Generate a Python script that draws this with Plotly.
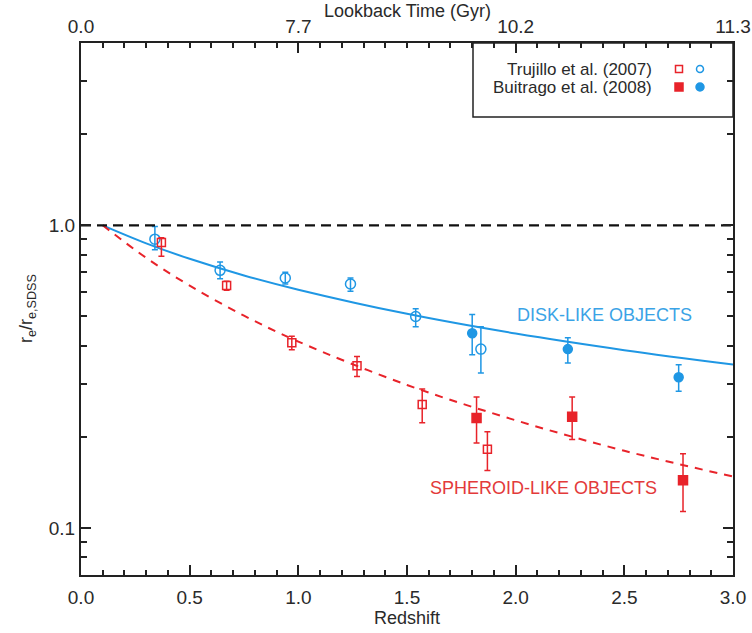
import math
import plotly.graph_objects as go

# ---- data ----
# fitted size-evolution curves (read at a few redshifts)
fit_z = [0.1, 0.3, 0.5, 0.75, 1.0, 1.5, 2.0, 2.5, 3.0]
disk_fit = [1.0, 0.872, 0.775, 0.683, 0.613, 0.510, 0.439, 0.387, 0.347]
sph_fit = [1.0, 0.781, 0.632, 0.503, 0.413, 0.297, 0.227, 0.180, 0.148]

# Trujillo et al. (2007) - open symbols
tru_disk_z = [0.34, 0.64, 0.94, 1.24, 1.54, 1.84]
tru_disk_r = [0.90, 0.71, 0.67, 0.64, 0.50, 0.39]
tru_disk_hi = [0.99, 0.756, 0.70, 0.67, 0.53, 0.462]
tru_disk_lo = [0.83, 0.666, 0.64, 0.606, 0.462, 0.325]

tru_sph_z = [0.37, 0.67, 0.97, 1.27, 1.57, 1.87]
tru_sph_r = [0.877, 0.633, 0.409, 0.344, 0.256, 0.182]
tru_sph_hi = [0.91, 0.654, 0.43, 0.369, 0.288, 0.208]
tru_sph_lo = [0.79, 0.61, 0.388, 0.317, 0.223, 0.155]

# Buitrago et al. (2008) - filled symbols
bui_disk_z = [1.80, 2.24, 2.75]
bui_disk_r = [0.44, 0.39, 0.315]
bui_disk_hi = [0.507, 0.425, 0.346]
bui_disk_lo = [0.374, 0.351, 0.283]

bui_sph_z = [1.82, 2.26, 2.77]
bui_sph_r = [0.231, 0.233, 0.144]
bui_sph_hi = [0.271, 0.271, 0.176]
bui_sph_lo = [0.191, 0.196, 0.1135]

x_ticks = [0.0, 0.5, 1.0, 1.5, 2.0, 2.5, 3.0]
lookback_pos = [0, 1, 2, 3]
lookback_labels = ["0.0", "7.7", "10.2", "11.3"]

BLUE = "#1f97e4"
RED = "#e8232a"
FONT = "Liberation Sans, Arial, sans-serif"
TXT = "#2a2a2a"

# plot area in pixels (for legend placement)
L, R, T, B = 81, 733, 43, 575


def px(xp, yp):
    return (xp - L) / (R - L), (B - yp) / (B - T)


def err(vals, hi, lo):
    return dict(type="data", symmetric=False,
                array=[h - v for h, v in zip(hi, vals)],
                arrayminus=[v - l for v, l in zip(vals, lo)])


fig = go.Figure()

# reference line r = 1 (on the top axis so that it gets drawn)
fig.add_trace(go.Scatter(x=[0, 3], y=[1, 1], xaxis="x2", mode="lines",
                         line=dict(color="#111111", width=2.2, dash="10px,6px"),
                         hoverinfo="skip"))

fig.add_trace(go.Scatter(x=fit_z, y=disk_fit, mode="lines", line_shape="spline",
                         line=dict(color=BLUE, width=2)))
fig.add_trace(go.Scatter(x=fit_z, y=sph_fit, mode="lines", line_shape="spline",
                         line=dict(color=RED, width=2, dash="8px,7px")))

series = [
    (tru_disk_z, tru_disk_r, tru_disk_hi, tru_disk_lo, BLUE, "circle-open", 10),
    (tru_sph_z, tru_sph_r, tru_sph_hi, tru_sph_lo, RED, "square-open", 8),
    (bui_disk_z, bui_disk_r, bui_disk_hi, bui_disk_lo, BLUE, "circle", 9),
    (bui_sph_z, bui_sph_r, bui_sph_hi, bui_sph_lo, RED, "square", 9),
]
for z, r, hi, lo, col, sym, size in series:
    e = err(r, hi, lo)
    e.update(color=col, thickness=1.5, width=3)
    fig.add_trace(go.Scatter(x=z, y=r, mode="markers", error_y=e,
                             marker=dict(symbol=sym, size=size, color=col,
                                         line=dict(color=col, width=1.5))))

# legend box drawn by hand (text right-aligned, symbols on the right)
LEG_Y = [69, 87]
shapes = []
x0, y0 = px(473, 117)
shapes.append(dict(type="rect", xref="paper", yref="paper", x0=x0, y0=y0, x1=1, y1=1,
                   line=dict(color="#222222", width=1.5), fillcolor="rgba(0,0,0,0)"))
for cx, cy, kind, col, filled, s in [(679, LEG_Y[0], "rect", RED, False, 7),
                                    (700, LEG_Y[0], "circle", BLUE, False, 7),
                                    (679, LEG_Y[1], "rect", RED, True, 8),
                                    (700, LEG_Y[1], "circle", BLUE, True, 8)]:
    a0, b0 = px(cx - s / 2, cy + s / 2)
    a1, b1 = px(cx + s / 2, cy - s / 2)
    shapes.append(dict(type=kind, xref="paper", yref="paper", x0=a0, y0=b0, x1=a1, y1=b1,
                       line=dict(color=col, width=1.5),
                       fillcolor=col if filled else "rgba(0,0,0,0)"))

ann = []
for label, yp in [("Trujillo et al. (2007)", LEG_Y[0]), ("Buitrago et al. (2008)", LEG_Y[1])]:
    ax, ay = px(654, yp)
    ann.append(dict(xref="paper", yref="paper", x=ax, y=ay, text=label, showarrow=False,
                    xanchor="right", yanchor="middle", font=dict(size=17, color=TXT, family=FONT)))

ann.append(dict(x=2.41, y=math.log10(0.507), text="DISK-LIKE OBJECTS", showarrow=False,
                xanchor="center", yanchor="middle", font=dict(size=18, color="#3aa3e6", family=FONT)))
ann.append(dict(x=2.128, y=math.log10(0.1357), text="SPHEROID-LIKE OBJECTS", showarrow=False,
                xanchor="center", yanchor="middle", font=dict(size=18, color="#e33a3a", family=FONT)))

ax, ay = px(408, 11)
ann.append(dict(xref="paper", yref="paper", x=0.5, y=ay, text="Lookback Time (Gyr)", showarrow=False,
                xanchor="center", yanchor="middle", font=dict(size=18, color=TXT, family=FONT)))
ax, ay = px(408, 618)
ann.append(dict(xref="paper", yref="paper", x=0.5, y=ay, text="Redshift", showarrow=False,
                xanchor="center", yanchor="middle", font=dict(size=18, color=TXT, family=FONT)))
ax, ay = px(27, 309)
ann.append(dict(xref="paper", yref="paper", x=ax, y=0.5, textangle=-90,
                text="r<sub>e</sub>/r<sub>e,SDSS</sub>", showarrow=False,
                xanchor="center", yanchor="middle", font=dict(size=18, color=TXT, family=FONT)))

axis_common = dict(showline=True, linecolor="#222222", linewidth=2, ticks="inside",
                   tickcolor="#222222", tickwidth=1.5, showgrid=False, zeroline=False,
                   automargin=False, tickfont=dict(size=19, color=TXT, family=FONT))

y_minor = [0.07, 0.08, 0.09, 0.2, 0.3, 0.4, 0.5, 0.6, 0.7, 0.8, 0.9, 2, 3]

fig.update_layout(
    width=752, height=633,
    margin=dict(l=L, r=752 - R, t=T, b=633 - B),
    paper_bgcolor="white", plot_bgcolor="white",
    showlegend=False,
    font=dict(family=FONT, color=TXT),
    xaxis=dict(range=[0, 3], tickvals=x_ticks, ticktext=[f"{v:.1f}" for v in x_ticks],
               ticklen=10, ticklabelstandoff=4,
               minor=dict(dtick=0.1, tick0=0, ticks="inside", ticklen=5,
                          tickcolor="#222222", tickwidth=1.5),
               **axis_common),
    xaxis2=dict(overlaying="x", side="top", range=[0, 3], tickvals=lookback_pos,
                ticktext=lookback_labels, ticklen=10,
                minor=dict(dtick=0.1, tick0=0, ticks="inside", ticklen=5,
                           tickcolor="#222222", tickwidth=1.5),
                **axis_common),
    yaxis=dict(type="log", range=[math.log10(0.07), math.log10(4)], tickvals=[0.1, 1],
               ticktext=["0.1", "1.0"], ticklen=10, mirror="ticks",
               minor=dict(tickvals=y_minor, ticks="inside", ticklen=6,
                          tickcolor="#222222", tickwidth=1.5),
               **axis_common),
    shapes=shapes,
    annotations=ann,
)

# the page's default body margin would shift the whole figure by 8px
fig.write_html("out.html", config={"displayModeBar": False},
               post_script="document.body.style.margin='0';")
